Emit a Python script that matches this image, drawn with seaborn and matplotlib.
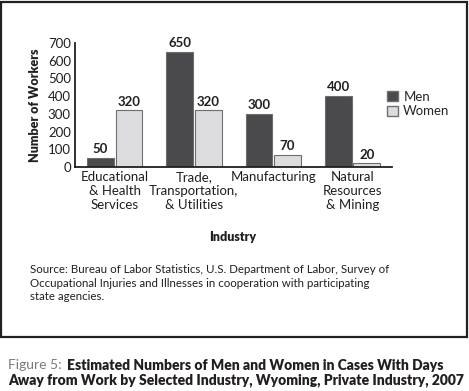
import pandas as pd
import matplotlib.pyplot as plt
import matplotlib.patches as mpatches
import seaborn as sns

industries = ['Educational\n& Health\nServices', 'Trade,\nTransportation,\n& Utilities',
              'Manufacturing', 'Natural\nResources\n& Mining']
men = [50, 650, 300, 400]
women = [320, 320, 70, 20]
yticks = [0, 100, 200, 300, 400, 500, 600, 700]

df = pd.DataFrame({
    'Industry': industries * 2,
    'Sex': ['Men'] * 4 + ['Women'] * 4,
    'Workers': men + women,
})

sns.set_style('white')
plt.rcParams['font.family'] = ['Lato', 'DejaVu Sans']
dark = '#231f20'

fig = plt.figure(figsize=(4.69, 3.91), dpi=100)
ax = fig.add_axes([0.160, 0.573, 0.676, 0.317])

sns.barplot(data=df, x='Industry', y='Workers', hue='Sex', order=industries,
            palette={'Men': '#4a4a4c', 'Women': '#dcdcde'}, width=0.72, gap=0.06,
            edgecolor='#6e6e70', linewidth=0.8, legend=False, ax=ax)

for cont in ax.containers:
    ax.bar_label(cont, padding=2, fontsize=9.5, fontweight='bold', color=dark)

ax.set_xlim(-0.5, 3.5)
ax.set_ylim(0, 700)
ax.set_yticks(yticks)
ax.tick_params(axis='y', direction='in', length=5, width=1.2, color=dark,
               labelsize=9.5, pad=3, labelcolor=dark)
ax.tick_params(axis='x', length=0, labelsize=9.5, pad=3, labelcolor=dark)
ax.set_xticks(range(4))
ax.set_xticklabels(industries, linespacing=1.2)
ax.set_xticks([0.5, 1.5, 2.5, 3.5], minor=True)
ax.tick_params(axis='x', which='minor', direction='in', length=3, width=1.2, color=dark)
for s in ['top', 'right']:
    ax.spines[s].set_visible(False)
for s in ['left', 'bottom']:
    ax.spines[s].set_color(dark)
    ax.spines[s].set_linewidth(1.3)

ax.set_ylabel('Number of Workers', fontsize=9, fontweight='heavy', color=dark, labelpad=5)
ax.set_xlabel('')
fig.text(0.497, 0.393, 'Industry', ha='center', va='center', fontsize=9,
         fontweight='heavy', color=dark)

# legend
handles = [mpatches.Patch(facecolor='#4a4a4c', edgecolor='#6e6e70', label='Men'),
           mpatches.Patch(facecolor='#dcdcde', edgecolor='#6e6e70', label='Women')]
fig.legend(handles=handles, loc='upper left', bbox_to_anchor=(0.812, 0.785),
           frameon=False, fontsize=9.5, handlelength=0.8, handleheight=0.8,
           handletextpad=0.4, labelspacing=0.2, borderpad=0)

fig.text(0.064, 0.276,
         'Source: Bureau of Labor Statistics, U.S. Department of Labor, Survey of\n'
         'Occupational Injuries and Illnesses in cooperation with participating\n'
         'state agencies.', ha='left', va='center', fontsize=8.3, color=dark,
         linespacing=1.25)

# border box
fig.add_artist(mpatches.Rectangle((0.003, 0.137), 0.992, 0.858, transform=fig.transFigure,
                                  fill=False, edgecolor=dark, linewidth=1.6))

fig.text(0.017, 0.066, 'Figure 5:', ha='left', va='center', fontsize=10,
         color='#7a7a7c')
fig.text(0.017 + 0.125, 0.066, 'Estimated Numbers of Men and Women in Cases With Days',
         ha='left', va='center', fontsize=10, fontweight='heavy', color=dark)
fig.text(0.017, 0.027, 'Away from Work by Selected Industry, Wyoming, Private Industry, 2007',
         ha='left', va='center', fontsize=10, fontweight='heavy', color=dark)

fig.savefig('out.png', dpi=100, facecolor='white')
